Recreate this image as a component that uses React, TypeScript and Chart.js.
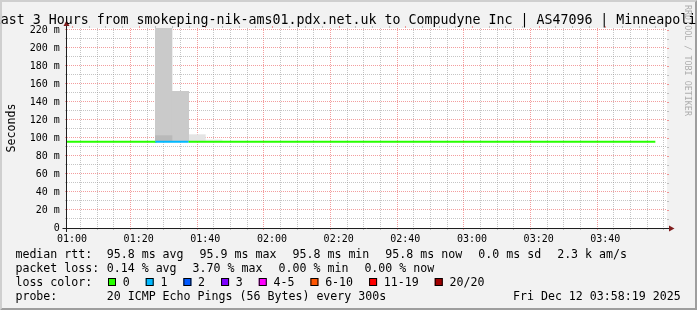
import React, { useEffect, useRef } from 'react';
import { Chart, registerables } from 'chart.js';

Chart.register(...registerables);

const MONO = '"DejaVu Sans Mono", monospace';

// ---------- text ----------
const titleText = 'Last 3 Hours from smokeping-nik-ams01.pdx.net.uk to Compudyne Inc | AS47096 | Minneapolis';
const yAxisTitle = 'Seconds';
const watermark = 'RRDTOOL / TOBI OETIKER';

// ---------- axes ----------
const xRangeStart = '00:58:30';
const xRangeEnd = '03:58:30';
const xTickLabels = ['01:00', '01:20', '01:40', '02:00', '02:20', '02:40', '03:00', '03:20', '03:40'];
const xMinorStepMin = 5;
const yMaxMs = 222.2;
const yMajorTicks = [0, 20, 40, 60, 80, 100, 120, 140, 160, 180, 200, 220];
const yMinorStepMs = 10;

// ---------- median rtt (5 min steps, value holds from step start) ----------
const stepTimes = [
  '00:55', '01:00', '01:05', '01:10', '01:15', '01:20', '01:25', '01:30', '01:35', '01:40',
  '01:45', '01:50', '01:55', '02:00', '02:05', '02:10', '02:15', '02:20', '02:25', '02:30',
  '02:35', '02:40', '02:45', '02:50', '02:55', '03:00', '03:05', '03:10', '03:15', '03:20',
  '03:25', '03:30', '03:35', '03:40', '03:45', '03:50', '03:55',
];
const medianRtt = [
  95.8, 95.8, 95.8, 95.8, 95.8, 95.8, 95.9, 95.8, 95.8, 95.8,
  95.8, 95.8, 95.8, 95.8, 95.8, 95.8, 95.8, 95.8, 95.8, 95.8,
  95.8, 95.8, 95.8, 95.8, 95.8, 95.8, 95.8, 95.8, 95.8, 95.8,
  95.8, 95.8, 95.8, 95.8, 95.8, 95.8, 95.8,
];
const lossCount = [
  0, 0, 0, 0, 0, 0, 1, 1, 0, 0,
  0, 0, 0, 0, 0, 0, 0, 0, 0, 0,
  0, 0, 0, 0, 0, 0, 0, 0, 0, 0,
  0, 0, 0, 0, 0, 0, 0,
];

// ---------- smoke (ping spread) per 5 min step ----------
const smokeTimes = ['01:25', '01:30', '01:35', '01:40'];
const smokeInner: ([number, number] | null)[] = [[95.8, 102.6], null, null, null];
const smokeOuter: ([number, number] | null)[] = [[102.6, 240], [95.8, 151.8], null, null];
const smokeFaint: ([number, number] | null)[] = [null, null, [95.8, 103.7], null];
const smokeFainter: ([number, number] | null)[] = [null, null, null, [95.8, 98.0]];

// ---------- legend ----------
const medianRttStats = ['95.8 ms avg', '95.9 ms max', '95.8 ms min', '95.8 ms now', '0.0 ms sd', '2.3 k am/s'];
const packetLossStats = ['0.14 % avg', '3.70 % max', '0.00 % min', '0.00 % now'];
const lossColorLabels = ['0', '1', '2', '3', '4-5', '6-10', '11-19', '20/20'];
const lossColors = ['#26ff00', '#00b8ff', '#0059ff', '#7e00ff', '#ff00ff', '#ff5500', '#ff0000', '#a00000'];
const probeText = '20 ICMP Echo Pings (56 Bytes) every 300s';
const dateText = 'Fri Dec 12 03:58:19 2025';

// ---------- colours ----------
const BACK = '#f2f2f2';
const SHADEA = '#cfcfcf';
const SHADEB = '#9e9e9e';
const GRID = 'rgba(140,140,140,0.5)';
const MGRID = 'rgba(232,60,60,0.5)';
const AXIS = '#1f1f1f';
const ARROW = '#801f1f';

const toMin = (s: string) => {
  const p = s.split(':').map(Number);
  return p[0] * 60 + p[1] + (p[2] || 0) / 60;
};

const lossColor = (n: number) => {
  if (n <= 0) return lossColors[0];
  if (n === 1) return lossColors[1];
  if (n === 2) return lossColors[2];
  if (n === 3) return lossColors[3];
  if (n <= 5) return lossColors[4];
  if (n <= 10) return lossColors[5];
  if (n <= 19) return lossColors[6];
  return lossColors[7];
};

const xMajorSet = new Map(xTickLabels.map((l) => [toMin(l), l]));
const xGridValues: number[] = [];
for (let m = toMin(xTickLabels[0]); m < toMin(xRangeEnd); m += xMinorStepMin) xGridValues.push(m);
const yGridValues: number[] = [];
for (let v = 0; v <= yMajorTicks[yMajorTicks.length - 1]; v += yMinorStepMs) yGridValues.push(v);
const yLabel = (v: number) => (yMajorTicks.includes(v) ? (v === 0 ? '0' : `${v} m`) : '');

const smokeDataset = (label: string, vals: ([number, number] | null)[], color: string, order: number) => ({
  type: 'bar' as const,
  label,
  order,
  data: smokeTimes
    .map((t, i) => (vals[i] ? { x: toMin(t) + xMinorStepMin / 2, y: vals[i] } : null))
    .filter(Boolean),
  backgroundColor: color,
  borderWidth: 0,
  barPercentage: 1,
  categoryPercentage: 1,
  grouped: false,
});

const rrdPlugin = {
  id: 'rrd',
  beforeDraw(chart: any) {
    const { ctx, width: W, height: H, chartArea: a } = chart;
    ctx.save();
    ctx.fillStyle = BACK;
    ctx.fillRect(0, 0, W, H);
    // frame
    ctx.fillStyle = SHADEA;
    ctx.beginPath();
    ctx.moveTo(0, H); ctx.lineTo(2, H - 2); ctx.lineTo(2, 2); ctx.lineTo(W - 2, 2); ctx.lineTo(W, 0); ctx.lineTo(0, 0);
    ctx.closePath(); ctx.fill();
    ctx.fillStyle = SHADEB;
    ctx.beginPath();
    ctx.moveTo(2, H - 2); ctx.lineTo(W - 2, H - 2); ctx.lineTo(W - 2, 2); ctx.lineTo(W, 0); ctx.lineTo(W, H); ctx.lineTo(0, H);
    ctx.closePath(); ctx.fill();
    // canvas
    ctx.fillStyle = '#ffffff';
    ctx.fillRect(a.left, a.top, a.right - a.left, a.bottom - a.top);
    ctx.restore();
  },
  afterDraw(chart: any) {
    const { ctx, chartArea: a, scales } = chart;
    const xs = scales.x, ys = scales.y;
    ctx.save();
    // grid stubs on right / top
    ctx.lineWidth = 1;
    for (const v of yGridValues) {
      const y = Math.round(ys.getPixelForValue(v)) + 0.5;
      ctx.strokeStyle = yMajorTicks.includes(v) ? MGRID : GRID;
      ctx.beginPath(); ctx.moveTo(a.right, y); ctx.lineTo(a.right + 2, y); ctx.stroke();
    }
    for (const v of xGridValues) {
      const x = Math.round(xs.getPixelForValue(v)) + 0.5;
      ctx.strokeStyle = xMajorSet.has(v) ? MGRID : GRID;
      ctx.beginPath(); ctx.moveTo(x, a.top - 2); ctx.lineTo(x, a.top); ctx.stroke();
    }
    // axes
    const ox = a.left - 0.5, oy = a.bottom + 0.5;
    ctx.strokeStyle = AXIS;
    ctx.lineWidth = 1;
    ctx.beginPath(); ctx.moveTo(ox - 4, oy); ctx.lineTo(a.right + 4, oy); ctx.stroke();
    ctx.beginPath(); ctx.moveTo(ox, a.bottom + 4); ctx.lineTo(ox, a.top - 4); ctx.stroke();
    ctx.fillStyle = ARROW;
    ctx.beginPath(); ctx.moveTo(a.right + 2, oy - 3); ctx.lineTo(a.right + 2, oy + 3); ctx.lineTo(a.right + 7.5, oy); ctx.closePath(); ctx.fill();
    ctx.beginPath(); ctx.moveTo(ox - 3, a.top - 2); ctx.lineTo(ox + 3, a.top - 2); ctx.lineTo(ox, a.top - 7.5); ctx.closePath(); ctx.fill();

    // title
    ctx.fillStyle = '#000';
    ctx.font = `13.29px ${MONO}`;
    ctx.textAlign = 'center';
    ctx.textBaseline = 'alphabetic';
    ctx.fillText(titleText, chart.width / 2, 24);

    // y-axis title
    ctx.font = `11.627px ${MONO}`;
    ctx.save();
    ctx.translate(15.3, (a.top + a.bottom) / 2);
    ctx.rotate(-Math.PI / 2);
    ctx.fillText(yAxisTitle, 0, 0);
    ctx.restore();

    // legend
    ctx.textAlign = 'left';
    const labX = 15.4, valX = 106.7, gap = 16;
    const row = (label: string, items: string[], y: number) => {
      ctx.fillText(label, labX, y);
      let x = valX;
      for (const s of items) { ctx.fillText(s, x, y); x += ctx.measureText(s).width + gap; }
    };
    row('median rtt:', medianRttStats, 258);
    row('packet loss:', packetLossStats, 272);
    ctx.fillText('loss color:', labX, 286);
    let bx = 108;
    lossColorLabels.forEach((l, i) => {
      ctx.fillStyle = lossColors[i];
      ctx.fillRect(bx, 278, 8, 8);
      ctx.strokeStyle = '#000';
      ctx.lineWidth = 1;
      ctx.strokeRect(bx + 0.5, 278.5, 7, 7);
      ctx.fillStyle = '#000';
      const lx = bx + 14.7;
      ctx.fillText(l, lx, 286);
      bx = lx + ctx.measureText(l).width + gap;
    });
    ctx.fillText('probe:', labX, 300);
    ctx.fillText(probeText, valX, 300);
    ctx.textAlign = 'right';
    ctx.fillText(dateText, 680.7, 300);

    // watermark
    ctx.save();
    ctx.fillStyle = 'rgba(0,0,0,0.3)';
    ctx.font = `8.4px ${MONO}`;
    ctx.textAlign = 'left';
    ctx.translate(684.7, 5);
    ctx.rotate(Math.PI / 2);
    ctx.fillText(watermark, 0, 0);
    ctx.restore();

    ctx.restore();
  },
};

export default function App() {
  const ref = useRef<HTMLCanvasElement | null>(null);
  useEffect(() => {
    if (!ref.current) return;
    const chart = new Chart(ref.current, {
      type: 'line',
      data: {
        datasets: [
          {
            type: 'line',
            label: 'median rtt',
            order: 0,
            data: stepTimes.map((t, i) => ({ x: toMin(t), y: medianRtt[i] })),
            stepped: 'before',
            borderWidth: 2,
            pointRadius: 0,
            borderColor: lossColors[0],
            borderCapStyle: 'butt',
            fill: false,
            segment: { borderColor: (c: any) => lossColor(lossCount[c.p0DataIndex]) },
          } as any,
          smokeDataset('smoke inner', smokeInner, '#b9b9b9', 1),
          smokeDataset('smoke outer', smokeOuter, '#cacaca', 2),
          smokeDataset('smoke faint', smokeFaint, '#e4e4e4', 3),
          smokeDataset('smoke fainter', smokeFainter, '#efefef', 4),
        ] as any,
      },
      options: {
        responsive: false,
        animation: false,
        devicePixelRatio: 1,
        events: [],
        layout: { padding: { left: 0, right: 30, top: 28, bottom: 62 } },
        plugins: { legend: { display: false }, tooltip: { enabled: false }, title: { display: false } },
        scales: {
          x: {
            type: 'linear',
            min: toMin(xRangeStart),
            max: toMin(xRangeEnd),
            offset: false,
            afterBuildTicks: (s: any) => { s.ticks = xGridValues.map((v) => ({ value: v })); },
            afterFit: (s: any) => { s.height = 20; },
            grid: {
              color: (c: any) => (xMajorSet.has(c.tick?.value) ? MGRID : GRID),
              tickColor: (c: any) => (xMajorSet.has(c.tick?.value) ? MGRID : GRID),
              tickLength: 2,
              lineWidth: 1,
              tickWidth: 1,
              borderDash: [1, 1],
            } as any,
            border: { display: false, dash: [1, 1] },
            ticks: {
              autoSkip: false,
              maxRotation: 0,
              minRotation: 0,
              padding: 3,
              color: '#000',
              font: { family: MONO, size: 10 },
              callback: (v: any) => xMajorSet.get(v) ?? '',
            },
          },
          y: {
            type: 'linear',
            min: 0,
            max: yMaxMs,
            afterBuildTicks: (s: any) => { s.ticks = yGridValues.map((v) => ({ value: v })); },
            afterFit: (s: any) => { s.width = 67; },
            grid: {
              color: (c: any) => (yMajorTicks.includes(c.tick?.value) ? MGRID : GRID),
              tickColor: (c: any) => (yMajorTicks.includes(c.tick?.value) ? MGRID : GRID),
              tickLength: 2,
              lineWidth: 1,
              tickWidth: 1,
              borderDash: [1, 1],
            } as any,
            border: { display: false, dash: [1, 1] },
            ticks: {
              autoSkip: false,
              padding: 5.2,
              color: '#000',
              font: { family: MONO, size: 10 },
              callback: (v: any) => yLabel(v),
            },
          },
        },
      } as any,
      plugins: [rrdPlugin],
    });
    return () => chart.destroy();
  }, []);
  return (
    <div style={{ position: 'absolute', left: 0, top: 0, width: 697, height: 310 }}>
      <canvas ref={ref} width={697} height={310} style={{ display: 'block', width: 697, height: 310 }} />
    </div>
  );
}
